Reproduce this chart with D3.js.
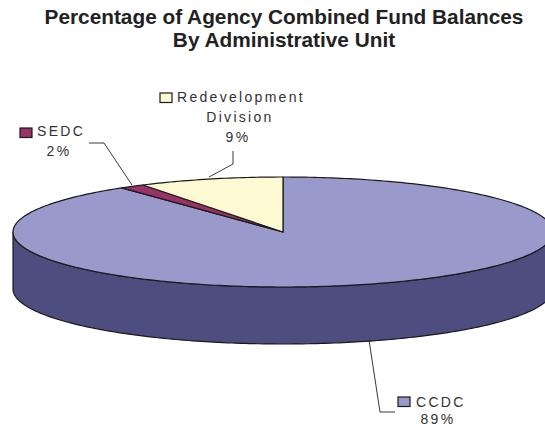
<!DOCTYPE html>
<html>
<head>
<meta charset="utf-8">
<script src="https://cdnjs.cloudflare.com/ajax/libs/d3/7.8.5/d3.min.js"></script>
<style>
  html, body { margin: 0; padding: 0; background: #fff; }
  svg { display: block; }
  text { font-family: "Liberation Sans", Arial, sans-serif; fill: #333; }
</style>
</head>
<body>
<svg id="chart" width="545" height="427"></svg>
<script>
// Data
const categories = ["CCDC", "SEDC", "Redevelopment Division"];
const shares = [89, 1.5, 8.6];
const colors = ["#9999cc", "#993366", "#fdf9d2"];
const sideColor = "#4d4d80";

const titleLines = ["Percentage of Agency Combined Fund Balances", "By Administrative Unit"];

// Pie geometry
const cx = 283, cy = 232, rx = 270, ry = 55, depth = 57;

const svg = d3.select("#chart");

svg.selectAll(".title")
    .data(titleLines)
    .enter()
    .append("text")
    .attr("class", "title")
    .attr("x", 284)
    .attr("y", (d, i) => 24 + i * 23)
    .attr("text-anchor", "middle")
    .attr("font-size", 20.8)
    .attr("font-weight", "bold")
    .style("fill", "#222")
    .text(d => d);

const slices = d3.pie().sort(null).value(d => d)(shares);

// angle is measured clockwise from the top of the ellipse
const px = a => cx + rx * Math.sin(a);
const py = a => cy - ry * Math.cos(a);

const line = d3.line().x(d => d[0]).y(d => d[1]);

function arcPoints(a0, a1, dy) {
    const n = Math.max(2, Math.ceil((a1 - a0) * 60));
    return d3.range(n + 1).map(i => {
        const a = a0 + (a1 - a0) * i / n;
        return [px(a), py(a) + dy];
    });
}

// Side wall, only the front half of the ellipse shows
const frontStart = Math.max(slices[0].startAngle, Math.PI / 2);
const frontEnd = Math.min(slices[0].endAngle, Math.PI * 3 / 2);
const wall = arcPoints(frontStart, frontEnd, 0).concat(arcPoints(frontStart, frontEnd, depth).reverse());
svg.append("path")
    .attr("d", line(wall) + "Z")
    .attr("fill", sideColor)
    .attr("stroke", "#1a1a1a")
    .attr("stroke-width", 1.2)
    .attr("stroke-linejoin", "round");

// Top faces
svg.selectAll(".slice")
    .data(slices)
    .enter()
    .append("path")
    .attr("class", "slice")
    .attr("d", d => line([[cx, cy]].concat(arcPoints(d.startAngle, d.endAngle, 0))) + "Z")
    .attr("fill", (d, i) => colors[i])
    .attr("stroke", "#1a1a1a")
    .attr("stroke-width", 1.2)
    .attr("stroke-linejoin", "round");

// Labels and leader lines, placed by hand
const labels = [
    { key: [398, 397], lines: [["CCDC", 416, 407, "start"], [null, 438, 424, "middle"]],
      leader: [[369, 340], [380, 412], [395, 412]] },
    { key: [20, 128], lines: [["SEDC", 37, 136, "start"], [null, 59, 156, "middle"]],
      leader: [[89, 143], [104, 143], [132, 185]] },
    { key: [160, 93], lines: [["Redevelopment", 177, 102, "start"], ["Division", 240, 122, "middle"], [null, 238, 142, "middle"]],
      leader: [[233, 151], [233, 164], [209, 177]] }
];

labels.forEach((lab, i) => {
    svg.append("path")
        .attr("d", line(lab.leader))
        .attr("fill", "none")
        .attr("stroke", "#222")
        .attr("stroke-width", 0.9);
    svg.append("rect")
        .attr("x", lab.key[0])
        .attr("y", lab.key[1])
        .attr("width", 12)
        .attr("height", 9.5)
        .attr("fill", colors[i])
        .attr("stroke", "#1a1a1a")
        .attr("stroke-width", 1.2);
    lab.lines.forEach(l => {
        svg.append("text")
            .attr("x", l[1])
            .attr("y", l[2])
            .attr("text-anchor", l[3])
            .attr("font-size", 14)
            .attr("letter-spacing", 2.3)
            .text(l[0] === null ? Math.round(shares[i]) + "%" : l[0]);
    });
});
</script>
</body>
</html>
